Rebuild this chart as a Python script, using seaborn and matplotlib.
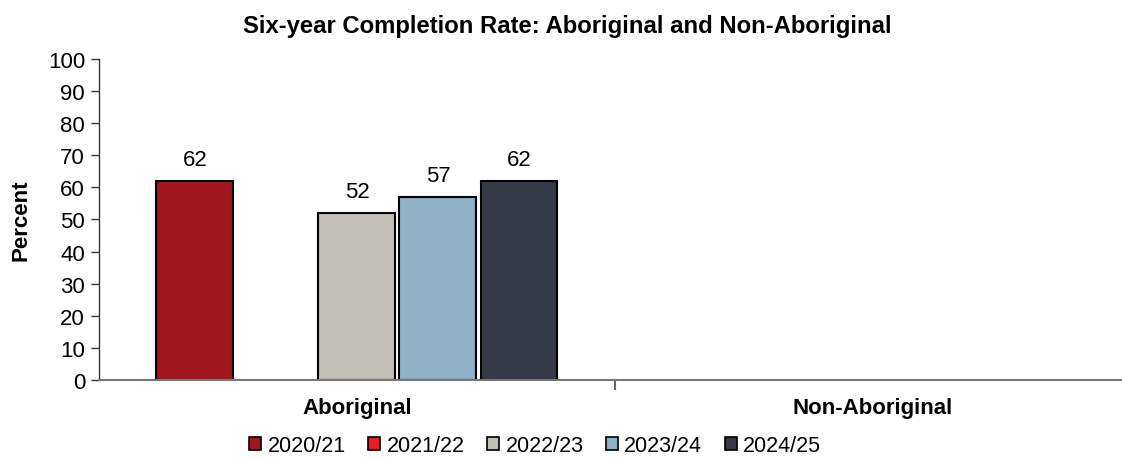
import numpy as np
import pandas as pd
import matplotlib.pyplot as plt
import seaborn as sns
from matplotlib.patches import Patch

# ---------------- data ------------------#
groups = ["Aboriginal", "Non-Aboriginal"]
years = ["2020/21", "2021/22", "2022/23", "2023/24", "2024/25"]
aboriginal = [62, np.nan, 52, 57, 62]
non_aboriginal = [np.nan, np.nan, np.nan, np.nan, np.nan]
colors = ["#A0181E", "#ED1C24", "#C1BFB7", "#8FB0C7", "#353945"]

df = pd.DataFrame({
    "group": [groups[0]] * len(years) + [groups[1]] * len(years),
    "year": years + years,
    "value": aboriginal + non_aboriginal,
})

# ---------------- plot ------------------#
sns.set_style("white")
plt.rcParams["font.family"] = ["Liberation Sans", "DejaVu Sans"]
plt.rcParams.update({"text.color": "black", "axes.labelcolor": "black",
                     "xtick.labelcolor": "black", "ytick.labelcolor": "black"})

fig = plt.figure(figsize=(11.22, 4.6), dpi=100)
ax = fig.add_axes([0.0882, 0.1717, 0.9198, 0.698])

sns.barplot(data=df, x="group", y="value", hue="year", order=groups,
            hue_order=years, palette=colors, saturation=1, width=0.785, gap=0.05,
            edgecolor="black", linewidth=1.5, legend=False, ax=ax)

# value labels
for cont in ax.containers:
    labels = ["" if np.isnan(v) else "%d" % v for v in cont.datavalues]
    ax.bar_label(cont, labels=labels, padding=8, fontsize=16)

ax.set_ylim(0, 100)
ax.set_yticks(range(0, 101, 10))
ax.set_xlim(-0.5, 1.5)
ax.tick_params(axis="y", labelsize=16, length=6, width=1, direction="out", left=True,
               color="#333333", pad=4)
ax.tick_params(axis="x", which="major", length=0, labelsize=16, pad=12)
ax.set_xticks([0.5], minor=True)
ax.tick_params(axis="x", which="minor", length=7, width=1.5, direction="out", bottom=True, color="#666666")
for lbl in ax.get_xticklabels():
    lbl.set_fontweight("bold")

for s in ["top", "right"]:
    ax.spines[s].set_visible(False)
ax.spines["left"].set_color("#333333")
ax.spines["left"].set_linewidth(1)
ax.spines["bottom"].set_color("#777777")
ax.spines["bottom"].set_linewidth(1.5)

ax.set_xlabel("")
ax.set_ylabel("Percent", fontsize=16, fontweight="bold", labelpad=12)
fig.suptitle("Six-year Completion Rate: Aboriginal and Non-Aboriginal",
             fontsize=17.2, fontweight="bold", x=0.506, y=0.968)

handles = [Patch(facecolor=c, edgecolor="black", linewidth=1.2) for c in colors]
fig.legend(handles, years, loc="center", bbox_to_anchor=(0.477, 0.03), ncol=5,
           frameon=False, fontsize=15.5, handlelength=0.55, handleheight=0.55,
           handletextpad=0.3, columnspacing=1.05)

fig.savefig("out.png", dpi=100)
